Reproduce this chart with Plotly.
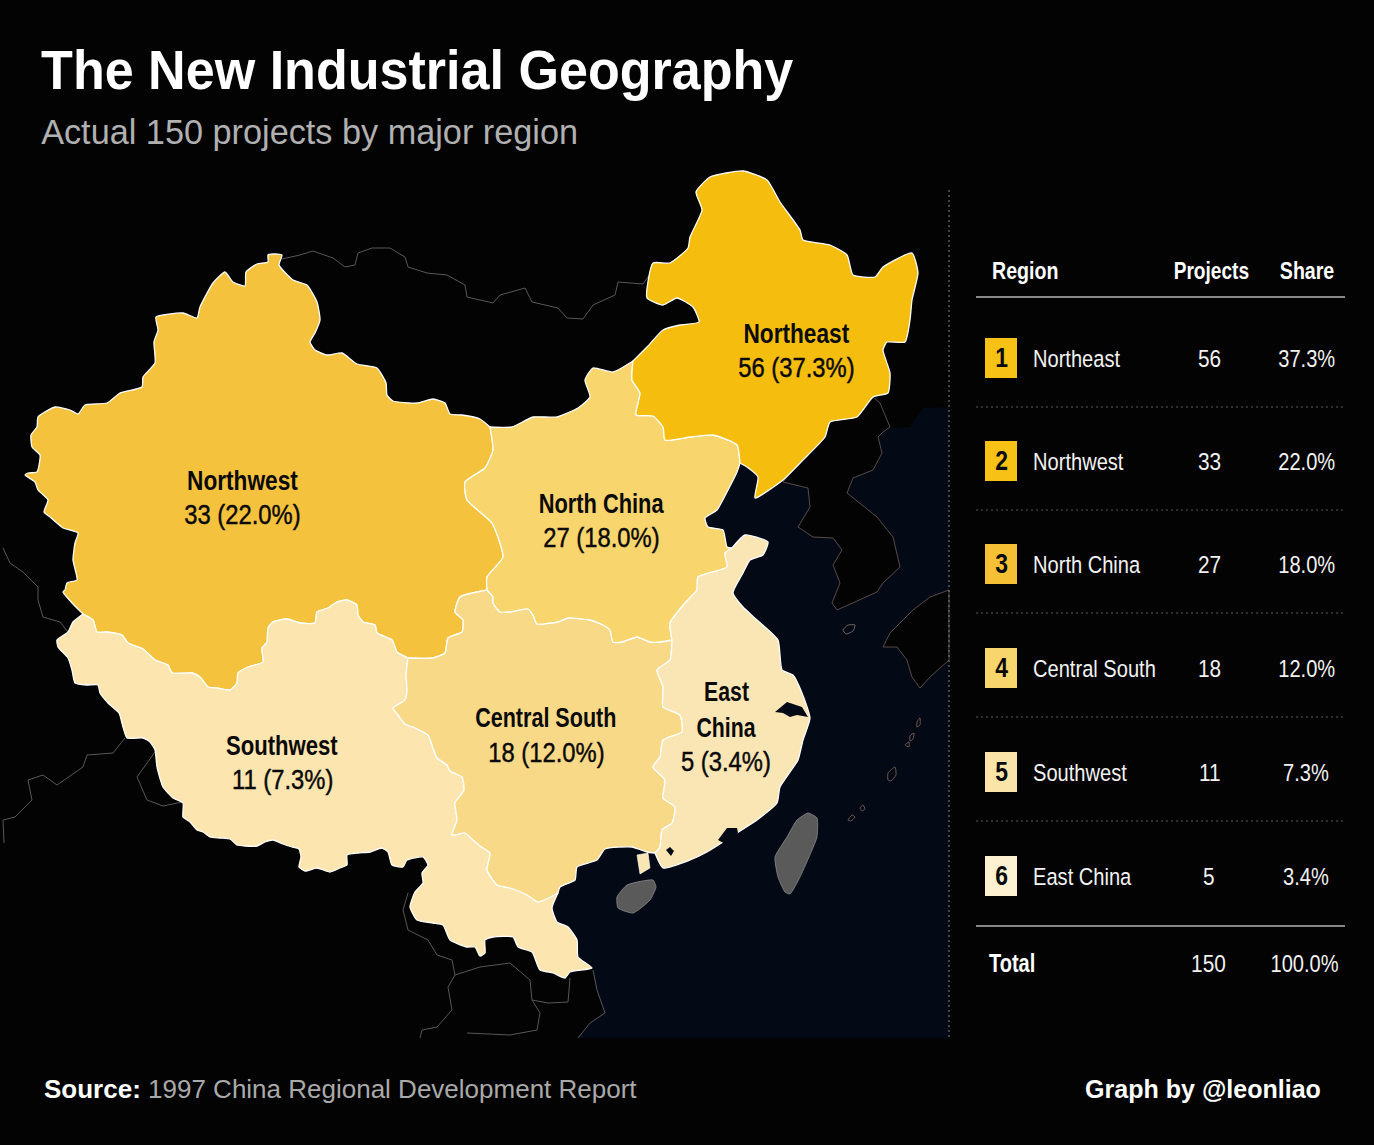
import json
import plotly.graph_objects as go

# =============================================================
# DATA
# =============================================================
REGIONS  = ["Northeast", "Northwest", "North China", "Central South", "Southwest", "East China"]
PROJECTS = [56, 33, 27, 18, 11, 5]
SHARES   = ["37.3%", "22.0%", "18.0%", "12.0%", "7.3%", "3.4%"]
TOTAL_PROJECTS = 150
TOTAL_SHARE    = "100.0%"
TABLE_HEADERS  = ["Region", "Projects", "Share"]

MAP_LABELS = {
    "Northeast": ["Northeast", "56 (37.3%)"],
    "Northwest": ["Northwest", "33 (22.0%)"],
    "North China": ["North China", "27 (18.0%)"],
    "Central South": ["Central South", "18 (12.0%)"],
    "Southwest": ["Southwest", "11 (7.3%)"],
    "East China": ["East", "China", "5 (3.4%)"],
}

# outlines (pixel coords), shared between neighbours
NW_TOP = [(83,614),(73,604),(63,592),(65,590),(67,583),(77,580),(73,560),(75,543),(78,533),(63,528),(50,517),(44,512),
          (48,500),(38,490),(35,482),(25,475),(28,473),(37,472),(40,455),(32,447),(31,435),(37,427),(38,417),(55,407),
          (70,410),(78,414),(85,405),(107,403),(120,393),(142,387),(143,377),(155,363),(154,342),(158,330),(156,317),
          (183,313),(197,318),(200,307),(213,283),(225,272),(233,282),(245,286),(246,272),(257,264),(268,262),(268,255),
          (273,254),(282,255),(279,265),(293,280),(307,285),(317,302),(320,320),(315,333),(310,342),(315,350),(327,355),
          (342,353),(357,364),(377,368),(386,383),(387,395),(393,401),(417,403),(433,399),(445,403),(450,414),(462,415),
          (480,419),(490,427)]
NW_NC = [(490,427),(493,450),(485,468),(465,482),(467,500),(492,523),(503,557),(487,577),(487,590)]
CS_NW = [(487,590),(460,597),(455,612),(463,620),(462,632),(448,638),(445,653),(433,658),(408,658)]
NW_SW = [(408,658),(397,652),(392,640),(377,633),(375,625),(363,622),(358,615),(357,605),(347,600),(337,602),(328,608),
         (317,612),(315,623),(300,623),(287,619),(273,622),(268,628),(267,642),(262,648),(263,662),(248,667),(238,673),
         (237,683),(230,690),(217,688),(208,687),(200,677),(192,673),(172,673),(168,665),(155,660),(143,649),(128,643),
         (122,635),(107,632),(97,632),(93,620),(83,614)]
SW_COAST = [(558,893),(552,908),(557,922),(568,927),(577,940),(578,957),(592,968),(570,972),(565,978),(553,973),(540,970),
            (532,952),(518,947),(513,937),(493,937),(485,940),(485,953),(480,956),(475,947),(467,947),(450,940),(443,925),
            (433,923),(417,920),(410,907),(415,892),(423,883),(422,873),(428,865),(423,857),(407,860),(403,867),(392,865),
            (388,852),(382,848),(370,852),(358,853),(347,855),(347,865),(340,868),(330,872),(317,868),(305,871),(299,867),
            (301,857),(299,849),(292,847),(283,844),(273,840),(265,842),(257,846),(245,846),(237,845),(230,839),(220,838),
            (210,837),(203,832),(197,830),(190,822),(183,817),(183,803),(173,798),(163,787),(157,767),(155,750),(150,742),
            (143,738),(127,738),(123,727),(119,713),(108,703),(100,693),(98,685),(87,685),(75,683),(72,670),(68,658),(58,647),
            (57,640),(68,632),(73,622),(83,614)]
SW_CS = [(558,893),(538,902),(527,895),(510,888),(497,885),(487,870),(490,853),(480,846),(473,840),(465,833),(452,835),
         (457,820),(455,803),(464,790),(462,777),(450,771),(447,765),(437,758),(433,748),(428,735),(415,728),(405,724),
         (398,715),(393,708),(405,700),(407,690),(406,675),(408,658)]
CS_NC = [(487,590),(493,597),(493,603),(500,612),(510,612),(528,609),(533,615),(537,624),(550,623),(558,622),(568,618),
         (590,620),(603,625),(610,630),(613,642),(622,642),(637,637),(650,642),(660,642),(672,640)]
CS_EC = [(672,640),(670,660),(657,670),(663,687),(663,707),(680,715),(682,732),(663,740),(660,757),(653,767),(665,780),
         (663,798),(675,807),(672,823),(662,830),(660,847),(655,853)]
CS_COAST = [(655,853),(647,852),(632,847),(605,849),(597,860),(577,867),(575,880),(560,887),(558,893)]
NC_TOP = [(490,427),(512,427),(533,417),(557,417),(578,408),(590,397),(585,380),(593,368),(613,372),(633,361)]
NC_NE = [(633,361),(632,380),(640,393),(636,415),(653,416),(663,427),(665,440),(690,437),(713,435),(737,445),(740,463)]
NC_COAST = [(740,463),(737,472),(728,490),(717,510),(705,518),(708,527),(723,530),(727,547),(732,548)]
NC_EC = [(732,548),(725,553),(727,567),(698,577),(697,590),(685,603),(670,623),(672,640)]
EC_COAST = [(732,548),(745,535),(768,542),(763,555),(750,560),(743,573),(733,593),(743,607),(757,620),(778,640),(782,670),
            (793,675),(802,693),(810,718),(803,740),(798,760),(780,787),(777,803),(757,820),(737,833),(707,852),(690,860),
            (663,868),(655,853)]
NE_COAST = [(633,361),(647,347),(663,330),(680,325),(699,322),(693,307),(677,298),(663,305),(647,298),(653,263),(670,263),
            (688,248),(690,237),(702,210),(696,192),(710,177),(743,171),(767,180),(780,202),(800,230),(803,240),(830,245),
            (847,255),(853,275),(875,277),(883,267),(912,253),(918,273),(912,300),(910,320),(905,342),(887,342),(883,350),
            (890,373),(888,393),(873,397),(857,417),(830,422),(825,437),(803,460),(783,480),(755,498),(758,477),(747,467),(740,463)]

SEA = [(949,407),(923,408),(910,427),(893,428),(885,418),(870,400),(800,460),(730,455),(695,525),(725,560),(650,700),(640,830),
       (590,840),(550,880),(540,905),(560,950),(592,968),(597,990),(605,1013),(590,1023),(578,1038),(949,1038)]
KOREA = [(783,482),(808,488),(810,507),(798,527),(813,537),(833,538),(842,550),(833,565),(840,583),(832,603),(837,610),
         (853,603),(877,592),(883,583),(900,567),(893,537),(877,517),(847,493),(853,478),(873,470),(882,453),(878,437),
         (883,432),(890,427),(880,403),(873,397),(830,422)]
JAPAN = [(949,590),(930,597),(913,610),(890,633),(883,647),(897,647),(907,660),(912,677),(920,688),(930,677),(949,660)]
TAIWAN = [(808,813),(817,818),(817,837),(812,850),(800,877),(790,894),(785,892),(778,877),(775,857),(787,837),(797,820)]
HAINAN = [(617,897),(627,885),(653,880),(656,887),(650,900),(633,913),(618,908)]
LEIZHOU = [(637,855),(648,853),(650,868),(640,874)]
HANGZHOU_BAY = [(775,712),(787,702),(802,707),(808,717),(797,715),(790,717),(783,713)]
COAST_ISLETS = [[(666,850),(670,847),(674,851),(671,856)], [(718,840),(727,828),(737,828),(738,833),(727,845)]]
JEJU = [(843,630),(848,625),(855,625),(853,631),(846,634)]
RYUKYU = [[(917,722),(920,718),(920,725),(917,727)], [(910,736),(914,733),(913,739),(910,741)],
          [(905,745),(909,742),(909,747)], [(888,773),(895,767),(896,775),(891,781),(888,780)],
          [(860,808),(863,805),(865,809),(862,811)], [(848,820),(852,815),(855,817),(851,821)]]

BORDERS = [
    [(282,259),(300,255),(313,251),(333,258),(345,267),(355,265),(358,253),(372,248),(390,248),(405,257),(408,267),(427,273),
     (447,275),(465,285),(467,297),(493,303),(500,295),(525,288),(532,302),(558,308),(567,318),(583,319),(593,305),(615,295),
     (618,282),(643,284),(653,270)],
    [(3,548),(10,563),(23,572),(38,587),(38,600),(43,617),(60,622),(68,632)],
    [(125,738),(113,753),(87,755),(83,767),(57,785),(43,775),(28,780),(32,800),(15,817),(3,820),(4,843)],
    [(155,752),(137,777),(147,800),(163,806),(182,802)],
    [(408,893),(403,910),(408,930),(428,940),(437,955),(452,960),(455,975),(448,987),(452,1010),(437,1027),(422,1030),(420,1038)],
    [(455,975),(480,967),(510,963),(530,980),(532,1000),(548,1003),(568,1002),(570,978)],
    [(532,1000),(540,1013),(537,1030),(510,1035),(467,1033)],
    [(593,970),(597,990),(605,1013),(590,1023),(578,1038)],
]

# =============================================================
# STYLE
# =============================================================
BG = "#030303"
SEA_COLOR = "#030a15"
FILLS = {"Northeast": "#f5bd0e", "Northwest": "#f5c23e", "North China": "#f9d56d",
         "Central South": "#f8d988", "Southwest": "#fce5ae", "East China": "#fae5b5"}
BADGES = ["#f7c215", "#f7c215", "#f6c034", "#f9d56d", "#fbe4a8", "#fdf1d2"]
SANS = "Liberation Sans"

LABEL_POS = {"Northeast": (796, 351), "Northwest": (242, 498), "North China": (601, 521),
             "Central South": (546, 735.5), "Southwest": (282, 763), "East China": (726, 727)}
LABEL_SQUEEZE = {"Northeast": 0.81, "Northwest": 0.81, "North China": 0.78,
                 "Central South": 0.77, "Southwest": 0.79, "East China": 0.76}
ROW_Y = [358, 461, 564, 668, 772, 876]
DIVIDER_Y = [407, 510, 613, 717, 821]
NARROW = 0.82  # no narrow font installed, text is squeezed sideways in the page


def rev(seg):
    return seg[::-1]


def poly(points, fill, line_color="rgba(0,0,0,0)", width=1.0, spline=False):
    xs = [p[0] for p in points] + [points[0][0]]
    ys = [p[1] for p in points] + [points[0][1]]
    return go.Scatter(x=xs, y=ys, mode="lines", fill="toself", fillcolor=fill,
                      line=dict(color=line_color, width=width, shape="spline" if spline else "linear", smoothing=0.5),
                      hoverinfo="skip", showlegend=False)


OUTLINES = {
    "Northwest": NW_TOP + NW_NC + CS_NW + NW_SW,
    "Southwest": NW_SW + rev(SW_COAST) + SW_CS,
    "Central South": CS_NC + CS_EC + CS_COAST + SW_CS + rev(CS_NW),
    "North China": NC_TOP + NC_NE + NC_COAST + NC_EC + rev(CS_NC) + rev(NW_NC),
    "East China": rev(NC_EC) + EC_COAST + rev(CS_EC),
    "Northeast": NE_COAST + rev(NC_NE),
}

fig = go.Figure()
fig.add_trace(poly(SEA, SEA_COLOR))
fig.add_trace(poly(KOREA, BG, "#6d5c58", 0.8))
fig.add_trace(poly(JAPAN, BG, "#6d5c58", 0.8))
for b in BORDERS:
    fig.add_trace(go.Scatter(x=[p[0] for p in b], y=[p[1] for p in b], mode="lines",
                             line=dict(color="#55575a", width=1), hoverinfo="skip", showlegend=False))
for name in ["Northwest", "Southwest", "Central South", "North China", "East China", "Northeast"]:
    fig.add_trace(poly(OUTLINES[name], FILLS[name], "#ffffff", 1.3, spline=True))
fig.add_trace(poly(LEIZHOU, FILLS["East China"], "#ffffff", 0.6))
fig.add_trace(poly(HANGZHOU_BAY, SEA_COLOR))
for islet in COAST_ISLETS:
    fig.add_trace(poly(islet, SEA_COLOR))
fig.add_trace(poly(TAIWAN, "#5a5a5a", "#8a8a8a", 0.8, spline=True))
fig.add_trace(poly(HAINAN, "#5a5a5a", "#8a8a8a", 0.8, spline=True))
fig.add_trace(poly(JEJU, SEA_COLOR, "#8d7a70", 0.8, spline=True))
for isle in RYUKYU:
    fig.add_trace(poly(isle, SEA_COLOR, "#8d6a60", 0.8, spline=True))

squeeze = []  # one sideways scale per annotation, same order as the annotations
heavier = []  # annotations that get a thin stroke to look medium weight


def text(x, y, s, size, color="#ffffff", anchor="center", sx=NARROW, medium=False):
    fig.add_annotation(x=x, y=y, text=s, showarrow=False, xanchor=anchor, yanchor="middle",
                       xref="x", yref="y", borderpad=0, borderwidth=0,
                       font=dict(family=SANS, size=size, color=color))
    squeeze.append(sx)
    heavier.append(medium)


# map labels
for name, (lx, ly) in LABEL_POS.items():
    lines = MAP_LABELS[name]
    for k, line in enumerate(lines):
        yy = ly + (k - (len(lines) - 1) / 2) * 35.5
        if k < len(lines) - 1:
            text(lx, yy, f"<b>{line}</b>", 28, "#0a0a0a", sx=LABEL_SQUEEZE[name])
        else:
            text(lx, yy - 1, line, 28, "#0a0a0a", sx=0.85, medium=True)

# titles and footer
text(41, 69, "<b>The New Industrial Geography</b>", 56, "#ffffff", "left", sx=0.93)
text(41, 131, "Actual 150 projects by major region", 36, "#b0b0b0", "left", sx=0.952)
text(44, 1089, "<b>Source:</b> <span style='color:#a9a9a9'>1997 China Regional Development Report</span>", 26, "#ffffff", "left", sx=1.0)
text(1321, 1089, "<b>Graph by @leonliao</b>", 26, "#ffffff", "right", sx=0.963)

# table
text(992, 270, f"<b>{TABLE_HEADERS[0]}</b>", 24.5, anchor="left", sx=0.8)
text(1211, 270, f"<b>{TABLE_HEADERS[1]}</b>", 24.5, sx=0.78)
text(1307, 270, f"<b>{TABLE_HEADERS[2]}</b>", 24.5, sx=0.8)
for i, name in enumerate(REGIONS):
    y = ROW_Y[i]
    fig.add_shape(type="rect", x0=985, x1=1017, y0=y - 20, y1=y + 20, fillcolor=BADGES[i], line_width=0)
    text(1001, y, f"<b>{i + 1}</b>", 27, "#0a0a0a", sx=0.85)
    text(1033, y, name, 24.5, "#f2f2f2", "left")
    text(1209, y, str(PROJECTS[i]), 24.5, "#f2f2f2", sx=0.85)
    text(1306, y, SHARES[i], 24.5, "#f2f2f2")
text(989, 963, "<b>Total</b>", 25, anchor="left", sx=0.8)
text(1208, 963, str(TOTAL_PROJECTS), 24.5, "#f2f2f2", sx=0.85)
text(1304, 963, TOTAL_SHARE, 24.5, "#f2f2f2")

for y0 in DIVIDER_Y:
    fig.add_shape(type="line", x0=976, x1=1345, y0=y0, y1=y0, line=dict(color="#5a5a5a", width=1, dash="2px,3px"))
for y0 in [297, 926]:
    fig.add_shape(type="line", x0=976, x1=1345, y0=y0, y1=y0, line=dict(color="#b5b5b5", width=1.5))
fig.add_shape(type="line", x0=949, x1=949, y0=190, y1=1038, line=dict(color="#8a8a8a", width=1, dash="2px,3px"))

fig.update_layout(width=1374, height=1145, margin=dict(l=0, r=0, t=0, b=0),
                  paper_bgcolor=BG, plot_bgcolor=BG, showlegend=False,
                  xaxis=dict(range=[0, 1374], visible=False, fixedrange=True),
                  yaxis=dict(range=[1145, 0], visible=False, fixedrange=True))

# squeeze each annotation text about its anchor edge
post = """
document.body.style.margin='0';document.body.style.background='#030303';
var gd=document.getElementById('{plot_id}');var sq=%s;var hv=%s;
document.querySelectorAll('.annotation').forEach(function(g){
  var i=+g.getAttribute('data-index');var t=g.querySelector('text');
  if(!t)return;
  if(hv[i]){t.style.stroke='#0a0a0a';t.style.strokeWidth='0.45px';}
  if(sq[i]===1)return;
  var b=t.getBBox();var an=gd.layout.annotations[i].xanchor;
  var cx=an==='left'?b.x:(an==='right'?b.x+b.width:b.x+b.width/2);
  var old=t.getAttribute('transform')||'';
  t.setAttribute('transform',old+' translate('+cx+',0) scale('+sq[i]+',1) translate('+(-cx)+',0)');
});
""" % (json.dumps(squeeze), json.dumps(heavier))

fig.write_html("out.html", config={"displayModeBar": False}, post_script=post)
